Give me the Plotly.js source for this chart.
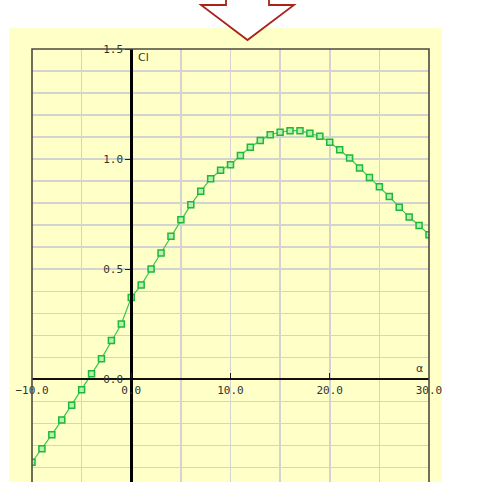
<!DOCTYPE html>
<html>
<head>
<meta charset="utf-8">
<script src="https://cdn.plot.ly/plotly-3.0.1.min.js"></script>
<style>
  html, body { margin: 0; padding: 0; background: #ffffff; }
  #chart { width: 486px; height: 482px; }
</style>
</head>
<body>
<div id="chart"></div>
<script>
// Lift coefficient vs. angle of attack
const alphaDeg = [-10, -9, -8, -7, -6, -5, -4, -3, -2, -1, 0, 1, 2, 3, 4, 5, 6, 7, 8, 9, 10,
                  11, 12, 13, 14, 15, 16, 17, 18, 19, 20, 21, 22, 23, 24, 25, 26, 27, 28, 29, 30];
const liftCoeff = [-0.376, -0.315, -0.251, -0.185, -0.117, -0.047, 0.025, 0.094, 0.176, 0.251,
                   0.372, 0.428, 0.501, 0.574, 0.650, 0.725, 0.793, 0.854, 0.911, 0.949, 0.974,
                   1.017, 1.054, 1.084, 1.111, 1.122, 1.129, 1.129, 1.118, 1.104, 1.077,
                   1.043, 1.005, 0.960, 0.916, 0.875, 0.830, 0.782, 0.737, 0.699, 0.657];

const xRange = [-10, 30];
const yRange = [-0.466, 1.5];
const xAxisName = 'α';
const yAxisName = 'Cl';

const W = 486, H = 482;
const M = { l: 32, r: 57, t: 49, b: 0 };
const plotW = W - M.l - M.r, plotH = H - M.t - M.b;

// pixel -> paper helpers for the decorations around the plot
const px = x => (x - M.l) / plotW;
const py = y => (H - M.b - y) / plotH;

// axes cross at the origin
const xAxisPos = (0 - yRange[0]) / (yRange[1] - yRange[0]);
const yAxisPos = (0 - xRange[0]) / (xRange[1] - xRange[0]);

const gridCol = '#d3d3cf';
const monoFont = { family: 'DejaVu Sans Mono', size: 11, color: '#333333' };

const trace = {
  x: alphaDeg,
  y: liftCoeff,
  type: 'scatter',
  mode: 'lines+markers',
  line: { color: '#3cc84c', width: 1.2 },
  marker: { symbol: 'square', size: 6, color: '#b8eeb0', line: { color: '#1fb838', width: 1.5 } },
  hoverinfo: 'skip',
  cliponaxis: true
};

// down arrow above the panel
const arrowPts = [[226, -1], [226, 5], [201, 5], [247.5, 40], [294, 5], [269, 5], [269, -1]];
const arrowPath = 'M ' + arrowPts.map(p => px(p[0]) + ',' + py(p[1])).join(' L ');

const layout = {
  width: W, height: H,
  margin: M,
  paper_bgcolor: '#ffffff',
  plot_bgcolor: 'rgba(0,0,0,0)',
  showlegend: false,
  xaxis: {
    range: xRange,
    anchor: 'free',
    position: xAxisPos,
    dtick: 10, tick0: -10,
    tickformat: '.1f',
    showgrid: true, gridcolor: gridCol, gridwidth: 1.5,
    minor: { dtick: 5, showgrid: true, gridcolor: gridCol, gridwidth: 1.5, ticks: '' },
    zeroline: false,
    showline: true, linecolor: '#111111', linewidth: 2,
    ticks: 'inside', ticklen: 5, tickcolor: '#222222', tickwidth: 1,
    tickfont: monoFont,
    fixedrange: true
  },
  yaxis: {
    range: yRange,
    anchor: 'free',
    position: yAxisPos,
    dtick: 0.5, tick0: 0,
    tickformat: '.1f',
    showgrid: true, gridcolor: gridCol, gridwidth: 1.5,
    minor: { dtick: 0.1, showgrid: true, gridcolor: gridCol, gridwidth: 1.5, ticks: '' },
    zeroline: false,
    showline: true, linecolor: '#000000', linewidth: 2.5,
    ticks: 'outside', ticklen: 5, tickcolor: '#222222', tickwidth: 1,
    tickfont: monoFont,
    fixedrange: true
  },
  shapes: [
    { type: 'rect', xref: 'paper', yref: 'paper', layer: 'below',
      x0: px(9), x1: px(442), y0: py(H + 10), y1: py(28),
      fillcolor: '#ffffc8', line: { width: 0 } },
    { type: 'rect', xref: 'paper', yref: 'paper', layer: 'above',
      x0: 0, x1: 1, y0: py(H + 10), y1: 1,
      fillcolor: 'rgba(0,0,0,0)', line: { color: '#4a4a40', width: 1.6 } },
    { type: 'path', xref: 'paper', yref: 'paper', layer: 'above',
      path: arrowPath, fillcolor: '#ffffff', line: { color: '#a82418', width: 1.8 } }
  ],
  annotations: [
    { text: yAxisName, xref: 'x', yref: 'y', x: 0.5, y: 1.5, xanchor: 'left', yanchor: 'top',
      showarrow: false, font: { family: 'DejaVu Sans', size: 11, color: '#333333' } },
    { text: xAxisName, xref: 'x', yref: 'y', x: 29, y: 0.05, xanchor: 'center', yanchor: 'middle',
      showarrow: false, font: { family: 'DejaVu Sans', size: 11, color: '#333333' } }
  ]
};

Plotly.newPlot('chart', [trace], layout, { staticPlot: true, displayModeBar: false });
</script>
</body>
</html>
